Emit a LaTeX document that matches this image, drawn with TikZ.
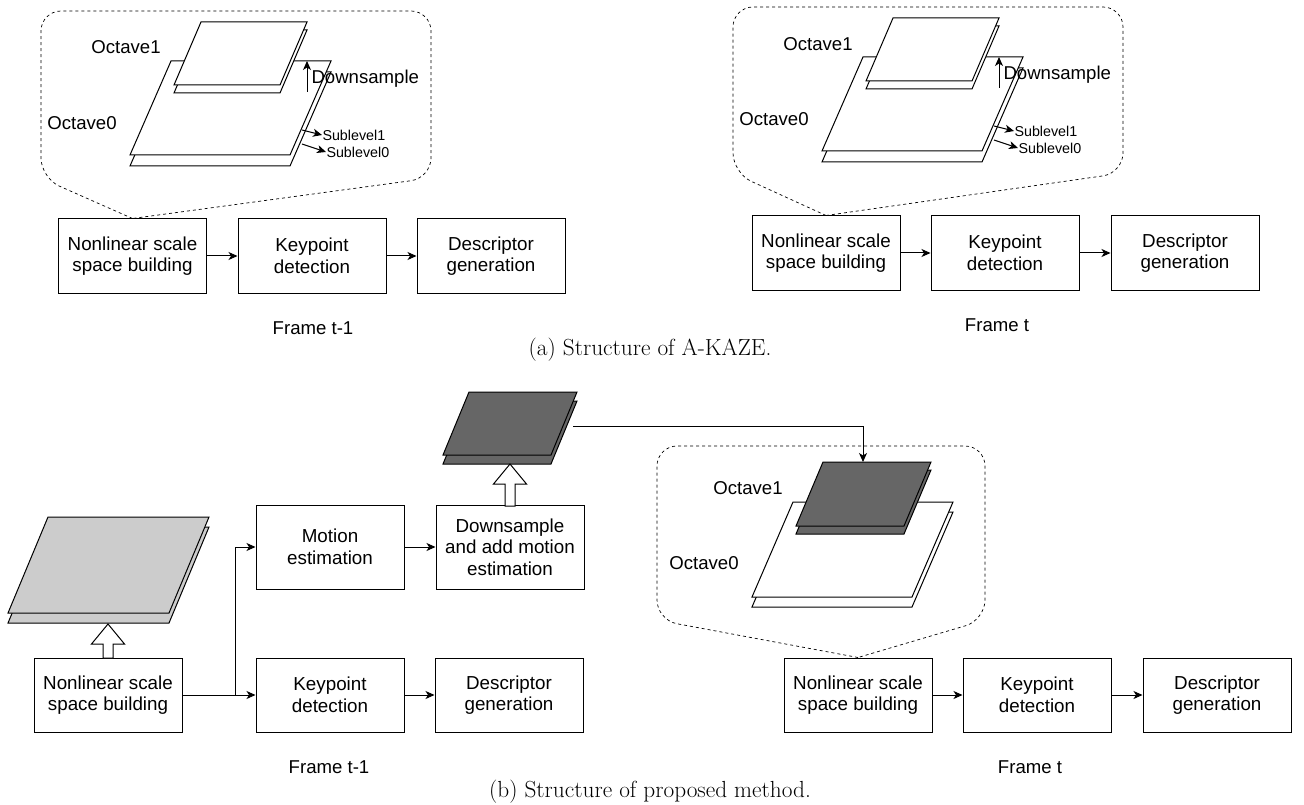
\documentclass[tikz,border=0pt]{standalone}
\usepackage{fontspec}
\newfontfamily\diagfont{Liberation Sans}
\usetikzlibrary{arrows.meta}
\definecolor{lightsheet}{HTML}{CCCCCC}
\definecolor{darksheet}{HTML}{666666}
\newcommand{\sheetpair}[7]{%
  \filldraw[fill=#6] (#1,#2+#7) -- ++(#3,0) -- ++(-#5,#4) -- ++(-#3,0) -- cycle;
  \filldraw[fill=#6] (#1,#2) -- ++(#3,0) -- ++(-#5,#4) -- ++(-#3,0) -- cycle;}
\newcommand{\hollowup}[3]{%
  \filldraw[fill=white] (#1-5,#2) -- (#1-5,#3+20) -- (#1-16.5,#3+20) -- (#1,#3)
    -- (#1+16.5,#3+20) -- (#1+5,#3+20) -- (#1+5,#2) -- cycle;}

\begin{document}
\begin{tikzpicture}[x=1pt,y=-1pt,line width=1pt,
  box/.style={draw,minimum width=148pt,minimum height=74pt,align=center,inner sep=2pt,
    font=\diagfont\fontsize{18.8}{21.7}\selectfont},
  tag/.style={font=\diagfont\fontsize{18.6}{21}\selectfont,inner sep=0pt},
  small/.style={font=\diagfont\fontsize{14.3}{16}\selectfont,anchor=west,inner sep=0pt},
  link/.style={-{Stealth[length=9pt,width=8pt,inset=2.5pt]}},
  callout/.style={draw,dash pattern=on 3pt off 3pt,line width=0.7pt,rounded corners=20pt},
  caption/.style={font=\fontsize{23.3}{28}\selectfont,inner sep=0pt}]
\useasboundingbox (0,0) rectangle (1304,805);

\node[box] (aNon) at (132.5,256) {Nonlinear scale\\space building};
\node[box] (aKey) at (312,256) {Keypoint\\detection};
\node[box] (aDes) at (491,256) {Descriptor\\generation};
\node[tag] (aFrame) at (313,328) {Frame t-1};
\draw[link] (aNon) -- (aKey);
\draw[link] (aKey) -- (aDes);
\draw[callout] (aNon.north) -- (41,178) -- (41,11) -- (431,11) -- (431,178) -- (aNon.north);
\sheetpair{171}{61}{160}{94}{41}{white}{11}
\sheetpair{201}{22}{106}{63}{27}{white}{8}
\node[tag] (aOct1) at (126,47) {Octave1};
\node[tag] (aOct0) at (82,123) {Octave0};
\coordinate (aDsFrom) at (307,92);
\coordinate (aDsTo) at (307,61);
\draw[link] (aDsFrom) -- (aDsTo);
\node[tag,anchor=west] (aDs) at (311,79) {Downsample};
\node[small] (aSub1) at (322,135) {Sublevel1};
\node[small] (aSub0) at (326,152) {Sublevel0};
\coordinate (aS1) at (302,130);
\coordinate (aS0) at (302,144);
\draw[link] (aS1) -- (aSub1.west);
\draw[link] (aS0) -- (aSub0.west);

\node[box] (rNon) at (826,253) {Nonlinear scale\\space building};
\node[box] (rKey) at (1005,253) {Keypoint\\detection};
\node[box] (rDes) at (1185,253) {Descriptor\\generation};
\node[tag] (rFrame) at (997,325) {Frame t};
\draw[link] (rNon) -- (rKey);
\draw[link] (rKey) -- (rDes);
\draw[callout] (rNon.north) -- (733,173) -- (733,7) -- (1123,7) -- (1123,173) -- (rNon.north);
\sheetpair{863}{57}{160}{94}{41}{white}{11}
\sheetpair{893}{18}{106}{63}{27}{white}{8}
\node[tag] (rOct1) at (818,44) {Octave1};
\node[tag] (rOct0) at (774,119) {Octave0};
\coordinate (rDsFrom) at (999,88);
\coordinate (rDsTo) at (999,57);
\draw[link] (rDsFrom) -- (rDsTo);
\node[tag,anchor=west] (rDs) at (1003,75) {Downsample};
\node[small] (rSub1) at (1014,131) {Sublevel1};
\node[small] (rSub0) at (1018,148) {Sublevel0};
\coordinate (rS1) at (994,126);
\coordinate (rS0) at (994,140);
\draw[link] (rS1) -- (rSub1.west);
\draw[link] (rS0) -- (rSub0.west);

\node[caption] (capA) at (650,350) {(a) Structure of A-KAZE.};

\node[box] (bNon) at (108,695) {Nonlinear scale\\space building};
\node[box,minimum height=84pt] (bMot) at (330,547) {Motion\\estimation};
\node[box,minimum height=84pt] (bDown) at (510,547) {Downsample\\and add motion\\estimation};
\node[box] (bKey) at (330,695) {Keypoint\\detection};
\node[box] (bDes) at (509,695) {Descriptor\\generation};
\node[tag] (bFrame) at (329,767) {Frame t-1};
\coordinate (bSplit) at (235,695);
\draw[link] (bNon) -- (bKey);
\draw[link] (bSplit) |- (bMot);
\draw[link] (bMot) -- (bDown);
\draw[link] (bKey) -- (bDes);
\sheetpair{48}{517}{161}{96}{40}{lightsheet}{10}
\sheetpair{469}{392}{108}{63}{26}{darksheet}{9}
\hollowup{108}{658}{624}
\hollowup{510}{506}{464}

\node[box] (cNon) at (858,695) {Nonlinear scale\\space building};
\node[box] (cKey) at (1037,695) {Keypoint\\detection};
\node[box] (cDes) at (1217,695) {Descriptor\\generation};
\node[tag] (cFrame) at (1030,767) {Frame t};
\draw[link] (cNon) -- (cKey);
\draw[link] (cKey) -- (cDes);
\draw[callout] (cNon.north) -- (657,620) -- (657,446) -- (985,446) -- (985,620) -- (cNon.north);
\sheetpair{793}{502}{160}{95}{41}{white}{10}
\sheetpair{823}{462}{108}{64}{27}{darksheet}{8}
\node[tag] (cOct1) at (748,488) {Octave1};
\node[tag] (cOct0) at (704,563) {Octave0};
\coordinate (bOut) at (573,426);
\coordinate (cIn) at (863,462);
\draw[link] (bOut) -| (cIn);

\node[caption] (capB) at (650,792) {(b) Structure of proposed method.};
\end{tikzpicture}
\end{document}
